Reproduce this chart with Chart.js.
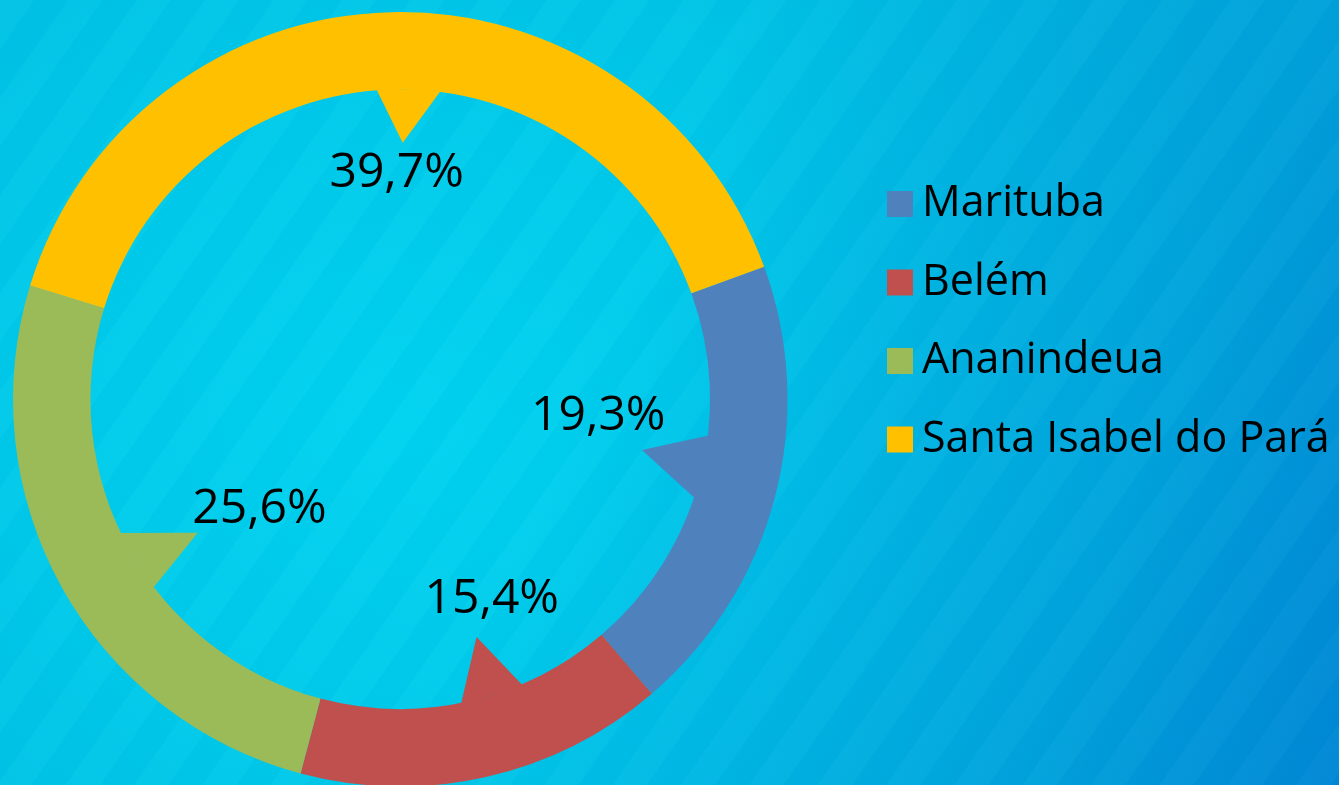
<!DOCTYPE html>
<html>
<head>
<meta charset="utf-8">
<script src="https://cdn.jsdelivr.net/npm/chart.js@4"></script>
<style>
  html, body { margin: 0; padding: 0; overflow: hidden; }
  body {
    width: 1339px; height: 785px;
    background:
      repeating-linear-gradient(125deg, rgba(255,255,255,0.018) 0 28px, rgba(0,40,120,0.018) 28px 56px),
      linear-gradient(112deg, rgba(0,140,214,0) 45%, rgba(0,138,214,0.5) 80%, rgba(0,130,212,0.9) 100%),
      radial-gradient(ellipse 900px 800px at 400px 420px, #00d3f0 0%, #00c9ea 45%, #00badf 100%);
  }
  canvas { display: block; }
</style>
</head>
<body>
<canvas id="chart" width="1339" height="800"></canvas>
<script>
// data
const cities = ['Marituba', 'Belém', 'Ananindeua', 'Santa Isabel do Pará'];
const shares = [19.3, 15.4, 25.6, 39.7];
const colors = ['#4F81BD', '#C0504D', '#9BBB59', '#FFC000'];

const legendFontSize = 43;
const legendGap = 35.5;

// callout pointers + labels (angles in degrees relative to slice middle, radius as part of inner radius)
const callouts = [
    {base: -2.1, tip: -2.9, tipR: 0.797, label: -5.9,  labelR: 0.647},
    {base: -4.4, tip: -5.0, tipR: 0.806, label: -10.4, labelR: 0.750},
    {base: -2.4, tip: -4.4, tipR: 0.783, label: -12.2, labelR: 0.604},
    {base:  3.0, tip:  2.0, tipR: 0.828, label:  0.5,  labelR: 0.686}
];

function fmt(v){
    return v.toFixed(1).replace('.', ',') + '%';
}

const calloutPlugin = {
    id: 'callouts',
    afterDatasetsDraw(chart) {
        const ctx = chart.ctx;
        const meta = chart.getDatasetMeta(0);
        const rad = d => d * Math.PI / 180;
        meta.data.forEach((arc, i) => {
            const p = arc.getProps(['x', 'y', 'startAngle', 'endAngle', 'innerRadius'], true);
            const mid = (p.startAngle + p.endAngle) / 2;
            const c = callouts[i];
            const pt = (a, r) => [p.x + Math.cos(a) * r, p.y + Math.sin(a) * r];
            const b = mid + rad(c.base);
            const half = rad(6);
            const p1 = pt(b - half, p.innerRadius + 2);
            const p2 = pt(b + half, p.innerRadius + 2);
            const tip = pt(mid + rad(c.tip), p.innerRadius * c.tipR);
            ctx.save();
            ctx.fillStyle = colors[i];
            ctx.beginPath();
            ctx.moveTo(p1[0], p1[1]);
            ctx.lineTo(tip[0], tip[1]);
            ctx.lineTo(p2[0], p2[1]);
            ctx.closePath();
            ctx.fill();

            const lp = pt(mid + rad(c.label), p.innerRadius * c.labelR);
            ctx.font = '48px "Open Sans"';
            ctx.fillStyle = '#000';
            ctx.textAlign = 'center';
            ctx.textBaseline = 'alphabetic';
            ctx.fillText(fmt(shares[i]), lp[0], lp[1]);
            ctx.restore();
        });
    }
};

// keep the ring square at the left and put the legend beside it
const placePlugin = {
    id: 'place',
    afterLayout(chart) {
        const area = chart.chartArea;
        const side = area.bottom - area.top;
        area.right = area.left + side;
        area.width = side;
        const lg = chart.legend;
        const w = lg.width;
        lg.left = 899.5 - legendGap;
        lg.right = lg.left + w;
        lg.top = 204 - legendFontSize / 2 - legendGap;
        lg.bottom = chart.height;
    }
};

Chart.defaults.font.family = '"Open Sans", sans-serif';

new Chart(document.getElementById('chart'), {
    type: 'doughnut',
    data: {
        labels: cities,
        datasets: [{
            data: shares,
            backgroundColor: colors,
            borderWidth: 0
        }]
    },
    options: {
        responsive: false,
        animation: false,
        rotation: 70,
        cutout: '80%',
        layout: {
            padding: {left: 13, top: 12, bottom: 13.5, right: 0}
        },
        plugins: {
            tooltip: {enabled: false},
            legend: {
                position: 'right',
                align: 'start',
                labels: {
                    color: '#000',
                    font: {size: legendFontSize},
                    usePointStyle: true,
                    pointStyle: 'rect',
                    boxWidth: 1,
                    boxHeight: 26,
                    padding: legendGap
                }
            }
        }
    },
    plugins: [calloutPlugin, placePlugin]
});
</script>
</body>
</html>
